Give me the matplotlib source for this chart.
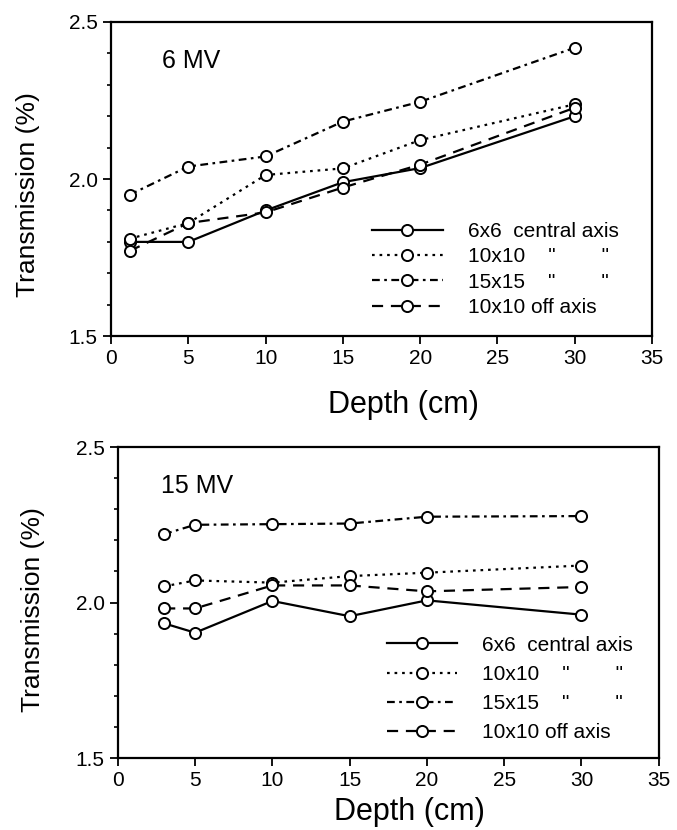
import matplotlib
matplotlib.use("Agg")
import matplotlib.pyplot as plt
from matplotlib.ticker import MultipleLocator, FormatStrFormatter

plt.rcParams['font.family'] = ['Liberation Sans', 'DejaVu Sans']

# ---- data ----
depth_6mv = [1.2, 5, 10, 15, 20, 30]
t6_6x6 = [1.80, 1.80, 1.90, 1.99, 2.035, 2.20]
t6_10x10 = [1.81, 1.86, 2.013, 2.034, 2.124, 2.238]
t6_15x15 = [1.95, 2.04, 2.072, 2.183, 2.246, 2.418]
t6_off = [1.771, 1.86, 1.894, 1.973, 2.046, 2.227]

depth_15mv = [3, 5, 10, 15, 20, 30]
t15_6x6 = [1.933, 1.903, 2.005, 1.956, 2.007, 1.961]
t15_10x10 = [2.052, 2.071, 2.064, 2.085, 2.096, 2.119]
t15_15x15 = [2.220, 2.250, 2.252, 2.254, 2.276, 2.278]
t15_off = [1.981, 1.981, 2.055, 2.055, 2.036, 2.050]

labels = ['6x6  central axis', '10x10    "        "', '15x15    "        "', '10x10 off axis']
styles = ['-', (0, (1.2, 2.2)), (0, (3.5, 2, 1.2, 2)), (0, (5, 3.5))]


def draw_panel(ax, depth, series, title, title_x, leg_xy, leg_spacing, xlab_y, ylab_xy):
    for vals, ls, lab in zip(series, styles, labels):
        ax.plot(depth, vals, linestyle=ls, color='black', linewidth=1.6,
                marker='o', markersize=8, markerfacecolor='white',
                markeredgecolor='black', markeredgewidth=1.4, label=lab)
    ax.set_xlim(0, 35)
    ax.set_ylim(1.5, 2.5)
    ax.xaxis.set_major_locator(MultipleLocator(5))
    ax.yaxis.set_major_locator(MultipleLocator(0.5))
    ax.yaxis.set_minor_locator(MultipleLocator(0.1))
    ax.yaxis.set_major_formatter(FormatStrFormatter('%.1f'))
    ax.tick_params(axis='both', which='major', labelsize=15, direction='out',
                   length=6, width=1.3)
    ax.tick_params(axis='y', which='minor', direction='out', length=3, width=1.2)
    for sp in ax.spines.values():
        sp.set_linewidth(1.6)
    ax.text(title_x, 2.375, title, fontsize=18, va='center', ha='left')
    ax.set_xlabel('Depth (cm)', fontsize=22)
    ax.xaxis.set_label_coords(0.54, xlab_y)
    ax.set_ylabel('Transmission (%)', fontsize=19)
    ax.yaxis.set_label_coords(*ylab_xy)
    ax.legend(loc='center left', bbox_to_anchor=leg_xy, frameon=False,
              fontsize=15, numpoints=1, handlelength=3.4, handletextpad=1.2,
              labelspacing=leg_spacing, borderpad=0, borderaxespad=0)


fig = plt.figure(figsize=(6.77, 8.30), dpi=100)
ax1 = fig.add_axes([0.164, 0.595, 0.799, 0.3785])
ax2 = fig.add_axes([0.174, 0.0867, 0.799, 0.3747])

draw_panel(ax1, depth_6mv, [t6_6x6, t6_10x10, t6_15x15, t6_off], '6 MV', 3.3,
           (0.482, 0.212), 0.3, -0.17, (-0.132, 0.45))
draw_panel(ax2, depth_15mv, [t15_6x6, t15_10x10, t15_15x15, t15_off], '15 MV', 2.8,
           (0.497, 0.222), 0.49, -0.125, (-0.135, 0.476))

fig.savefig('out.png', dpi=100)
